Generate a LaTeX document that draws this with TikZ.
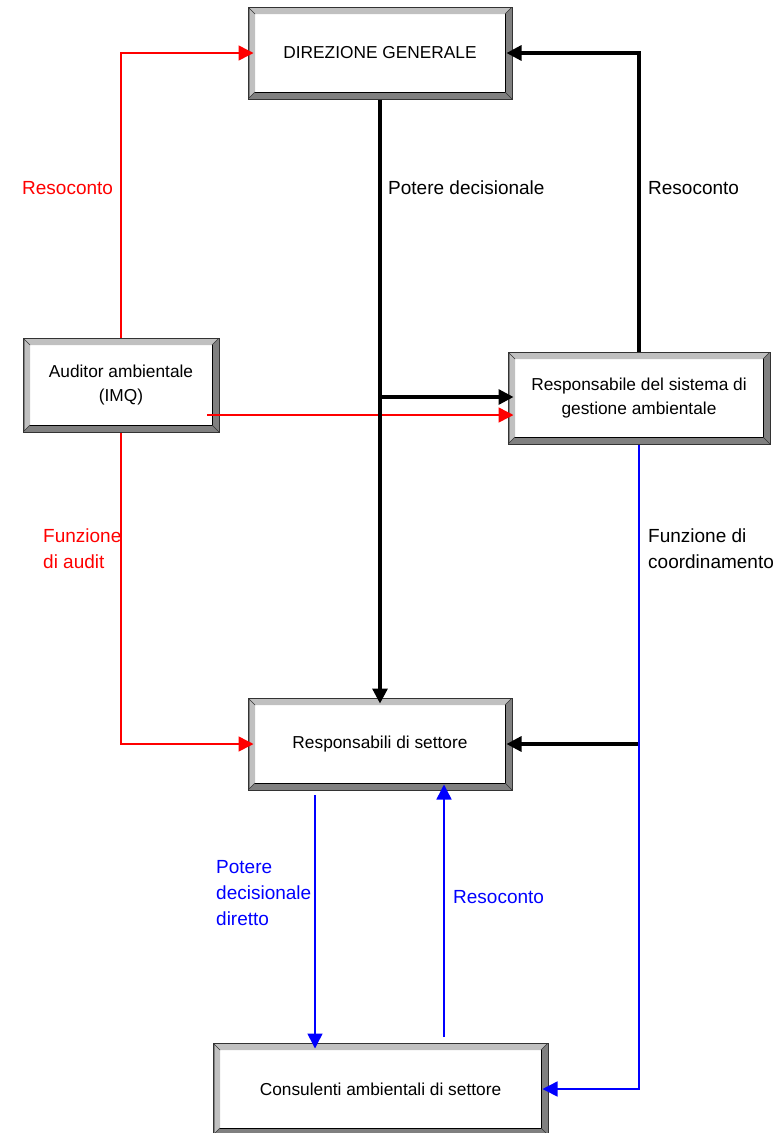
\documentclass[tikz,border=0pt]{standalone}
\usepackage{fontspec}
\setmainfont{Liberation Sans}
\usetikzlibrary{arrows.meta,calc}
\definecolor{bevlight}{RGB}{192,192,192}
\definecolor{bevdark}{RGB}{128,128,128}
\definecolor{pred}{RGB}{255,0,0}
\definecolor{pblue}{RGB}{0,0,255}
\begin{document}
\begin{tikzpicture}[x=1pt,y=-1pt,
  bevbox/.style={rectangle, draw=black!80, line width=1pt, fill=white, inner sep=0pt, align=center,
    font=\fontsize{17.3}{24}\selectfont,
    path picture={
      \coordinate (nw) at (path picture bounding box.north west);
      \coordinate (ne) at (path picture bounding box.north east);
      \coordinate (sw) at (path picture bounding box.south west);
      \coordinate (se) at (path picture bounding box.south east);
      \coordinate (inw) at ([xshift=7pt,yshift=-7pt]path picture bounding box.north west);
      \coordinate (ine) at ([xshift=-7pt,yshift=-7pt]path picture bounding box.north east);
      \coordinate (isw) at ([xshift=7pt,yshift=7pt]path picture bounding box.south west);
      \coordinate (ise) at ([xshift=-7pt,yshift=7pt]path picture bounding box.south east);
      \fill[bevlight] (nw) -- (ne) -- (ine) -- (inw) -- (isw) -- (sw) -- cycle;
      \fill[bevdark] (ne) -- (se) -- (sw) -- (isw) -- (ise) -- (ine) -- cycle;
      \fill[bevdark] (nw) rectangle ([xshift=2pt]sw);
      \draw[black, line width=0.8pt] (isw) -- (ise) -- (ine);
      \draw[black!80, line width=0.6pt] (nw) -- (inw) (ne) -- (ine) (sw) -- (isw) (se) -- (ise);
    }},
  lbl/.style={anchor=west, inner sep=0pt, align=left, font=\fontsize{19}{26}\selectfont},
  blk/.style={draw=black, line width=3.2pt, shorten >=-6pt, -{Triangle[length=15pt,width=15pt]}},
  redl/.style={draw=pred, line width=1.5pt, shorten >=-6pt, -{Triangle[length=15pt,width=15pt]}},
  blul/.style={draw=pblue, line width=1.5pt, shorten >=-6pt, -{Triangle[length=15pt,width=15pt]}},
  ]
\useasboundingbox (0,0) rectangle (782,1133);
\fill[white] (0,0) rectangle (782,1133);

% boxes
\node[bevbox, minimum width=264pt, minimum height=92pt] (dg) at (380,53) {DIREZIONE GENERALE};
\node[bevbox, minimum width=196pt, minimum height=94pt] (aud) at (121,385) {Auditor ambientale\\(IMQ)};
\node[bevbox, minimum width=262pt, minimum height=92pt] (rs) at (639,398) {Responsabile del sistema di\\gestione ambientale};
\node[bevbox, minimum width=264pt, minimum height=92pt] (sett) at (380,744) {Responsabili di settore};
\node[bevbox, minimum width=335pt, minimum height=92pt] (cons) at (380.5,1089) {Consulenti ambientali di settore};

% helper coordinates
\coordinate (redstart) at (207,415);
\coordinate (bjoin) at (380,397);
\coordinate (cjoin) at (639,744);
\coordinate (bdstart) at (315,795);
\coordinate (bustart) at (444,1037);

% red connectors
\draw[redl] (aud.north) |- (dg.west);
\draw[redl] (redstart) -- (redstart -| rs.west);
\draw[redl] (aud.south) |- (sett.west);

% black connectors
\draw[blk] (dg.south) -- (sett.north);
\draw[blk] (bjoin) -- (bjoin -| rs.west);
\draw[blk] (rs.north) |- (dg.east);
\draw[blk] (cjoin) -- (sett.east);

% blue connectors
\draw[blul] (rs.south) |- (cons.east);
\draw[blul] (bdstart) -- (bdstart |- cons.north);
\draw[blul] (bustart) -- (bustart |- sett.south);

% labels
\node[lbl, text=pred] (l1) at (22,188) {Resoconto};
\node[lbl] (l2) at (388,188) {Potere decisionale};
\node[lbl] (l3) at (648,188) {Resoconto};
\node[lbl, text=pred] (l4) at (43,548.5) {Funzione\\di audit};
\node[lbl] (l5) at (648,548.5) {Funzione di\\coordinamento};
\node[lbl, text=pblue] (l6) at (216,893) {Potere\\decisionale\\diretto};
\node[lbl, text=pblue] (l7) at (453,897) {Resoconto};
\end{tikzpicture}
\end{document}
